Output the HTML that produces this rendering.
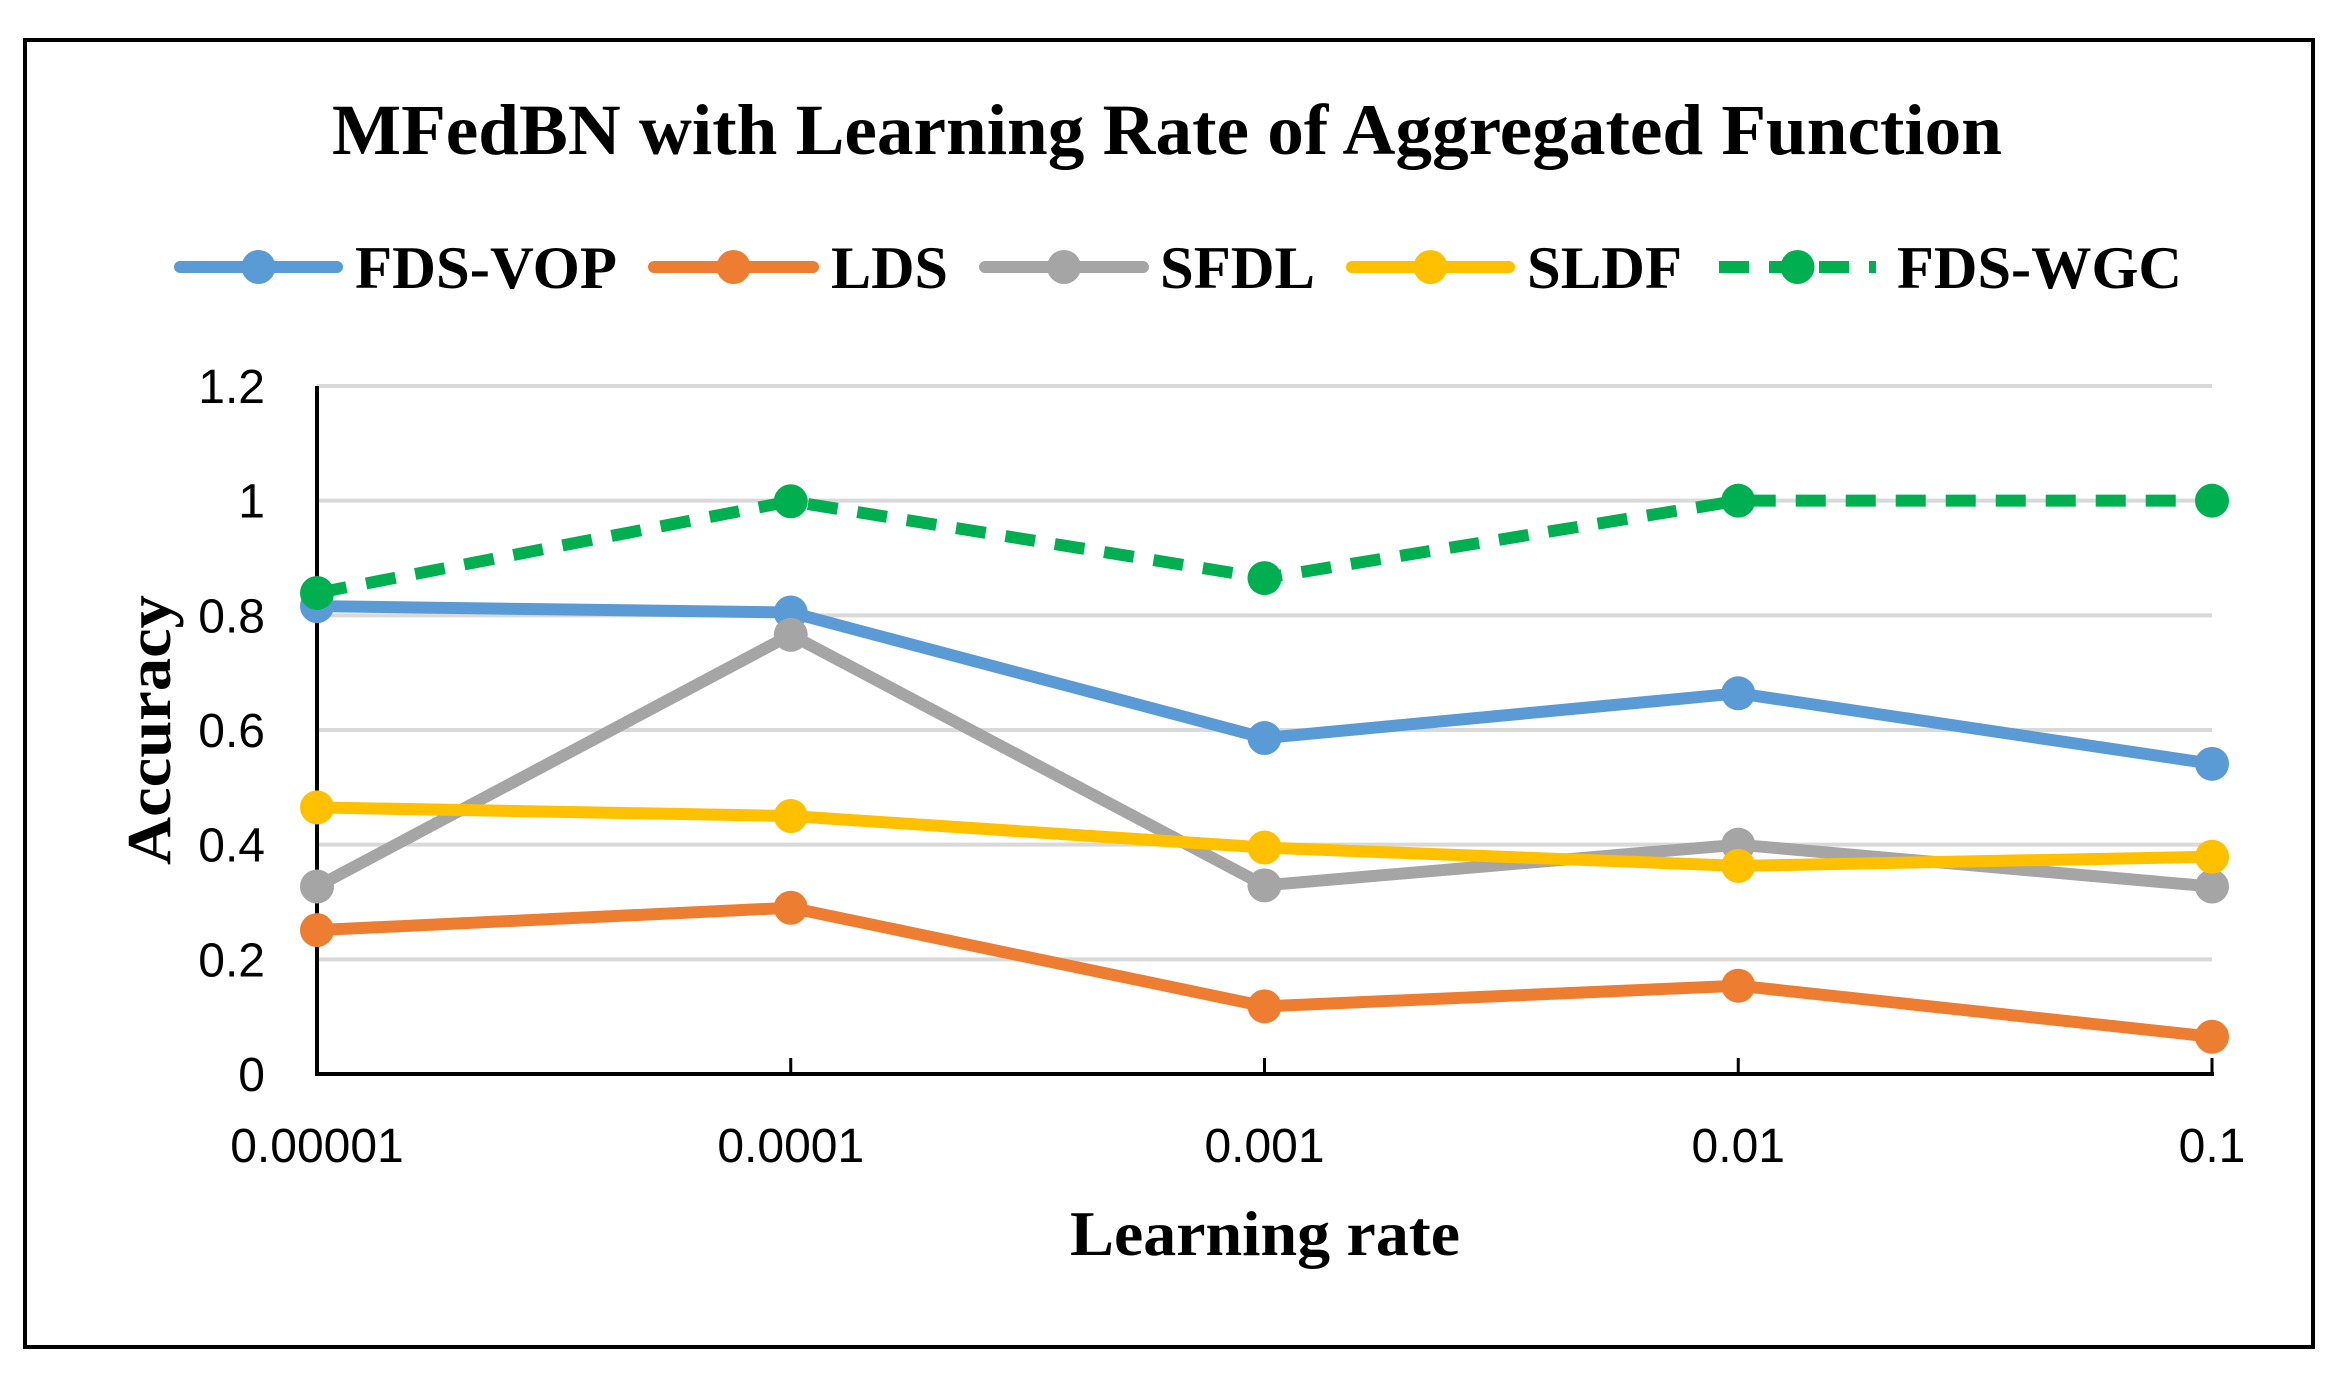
<!DOCTYPE html>
<html><head><meta charset="utf-8"><style>
html,body{margin:0;padding:0;background:#fff;}
svg{display:block;}
.serif{font-family:"Liberation Serif","Times New Roman",serif;font-weight:bold;}
.sans{font-family:"Liberation Sans",Arial,sans-serif;}
</style></head><body>
<svg id="chart" width="2348" height="1374" viewBox="0 0 2348 1374" xmlns="http://www.w3.org/2000/svg">
<rect x="0" y="0" width="2348" height="1374" fill="#fff"/>
<rect x="25" y="40" width="2288" height="1307" fill="none" stroke="#000" stroke-width="4"/>
<text class="serif" x="1167" y="154" font-size="72" text-anchor="middle" textLength="1670" lengthAdjust="spacingAndGlyphs">MFedBN with Learning Rate of Aggregated Function</text>
<g id="legend"></g>
<g id="grid"></g>
<g id="axes"></g>
<g id="series"></g>
<text class="serif" x="1265" y="1255" font-size="64" text-anchor="middle" textLength="390" lengthAdjust="spacingAndGlyphs">Learning rate</text>
<text class="serif" x="0" y="0" font-size="62" text-anchor="middle" textLength="270" lengthAdjust="spacingAndGlyphs" transform="translate(170,730) rotate(-90)">Accuracy</text>
</svg>
<script>
const categories = ["0.00001","0.0001","0.001","0.01","0.1"];
const yTicks = [0,0.2,0.4,0.6,0.8,1,1.2];
const yTickLabels = ["0","0.2","0.4","0.6","0.8","1","1.2"];
const seriesNames = ["FDS-VOP","LDS","SFDL","SLDF","FDS-WGC"];
const fdsVop = [0.816,0.805,0.586,0.664,0.541];
const lds = [0.251,0.290,0.118,0.154,0.065];
const sfdl = [0.327,0.766,0.329,0.400,0.327];
const sldf = [0.465,0.450,0.395,0.363,0.379];
const fdsWgc = [0.839,0.999,0.865,1.000,1.000];

const NS="http://www.w3.org/2000/svg";
const X0=317, X1=2212, Y0=1074, Ytop=386, YMAX=1.2;
function xs(i){return X0+(X1-X0)*i/(categories.length-1);}
function ys(v){return Y0-(Y0-Ytop)*v/YMAX;}
function mk(tag,attrs,parent){const e=document.createElementNS(NS,tag);for(const k in attrs)e.setAttribute(k,attrs[k]);parent.appendChild(e);return e;}

const grid=document.getElementById('grid');
yTicks.forEach((t,i)=>{
  if(t>0){
    const l=mk('line',{x1:X0,x2:X1,y1:ys(t),y2:ys(t),stroke:'#d9d9d9','stroke-width':4},grid);
    
    
  }
  const tx=mk('text',{x:265,y:ys(t)+17,'font-size':48,'text-anchor':'end',class:'sans'},grid);
  tx.textContent=yTickLabels[i];
  
  
});
const axes=document.getElementById('axes');
const ya=mk('line',{x1:X0,x2:X0,y1:Ytop,y2:Y0+2,stroke:'#000','stroke-width':4},axes);


const xa=mk('line',{x1:X0-2,x2:X1+2,y1:Y0,y2:Y0,stroke:'#000','stroke-width':4},axes);


categories.forEach((c,i)=>{
  if(i>0){
    const tk=mk('line',{x1:xs(i),x2:xs(i),y1:Y0-16,y2:Y0,stroke:'#000','stroke-width':3},axes);
    
    
  }
  const tx=mk('text',{x:xs(i),y:1162,'font-size':48,'text-anchor':'middle',class:'sans'},axes);
  tx.textContent=c;
  
  
});

const colors=["#5b9bd5","#ed7d31","#a5a5a5","#ffc000","#00b050"];
const dataSets=[fdsVop,lds,sfdl,sldf,fdsWgc];
const series=document.getElementById('series');
dataSets.forEach((d,si)=>{
  const g=mk('g',{},series);
  
  
  const pts=d.map((v,i)=>xs(i)+','+ys(v)).join(' ');
  const attrs={points:pts,fill:'none',stroke:colors[si],'stroke-width':12,'stroke-linejoin':'round','stroke-linecap':'round'};
  if(si===4){attrs['stroke-dasharray']='30 20';attrs['stroke-linecap']='butt';}
  const pl=mk('polyline',attrs,g);
  
  
  d.forEach((v,i)=>{
    const c=mk('circle',{cx:xs(i),cy:ys(v),r:17,fill:colors[si]},g);
    
    
  });
});

const legend=document.getElementById('legend');
const legLine=[[180,337],[654,813],[985,1143],[1352,1509],[1719,1876]];
const legText=[[355,262],[831,117],[1160,155],[1527,155],[1897,285]];
seriesNames.forEach((n,i)=>{
  const g=mk('g',{},legend);
  
  
  const la={x1:legLine[i][0],x2:legLine[i][1],y1:267,y2:267,stroke:colors[i],'stroke-width':12,'stroke-linecap':'round'};
  if(i===4){la['stroke-dasharray']='30 20';la['stroke-linecap']='butt';}
  const l=mk('line',la,g);
  
  
  const c=mk('circle',{cx:(legLine[i][0]+legLine[i][1])/2,cy:267,r:17,fill:colors[i]},g);
  
  
  const t=mk('text',{x:legText[i][0],y:288,'font-size':60,class:'serif',textLength:legText[i][1],lengthAdjust:'spacingAndGlyphs'},g);
  t.textContent=n;
  
  
});
</script>
</body></html>
